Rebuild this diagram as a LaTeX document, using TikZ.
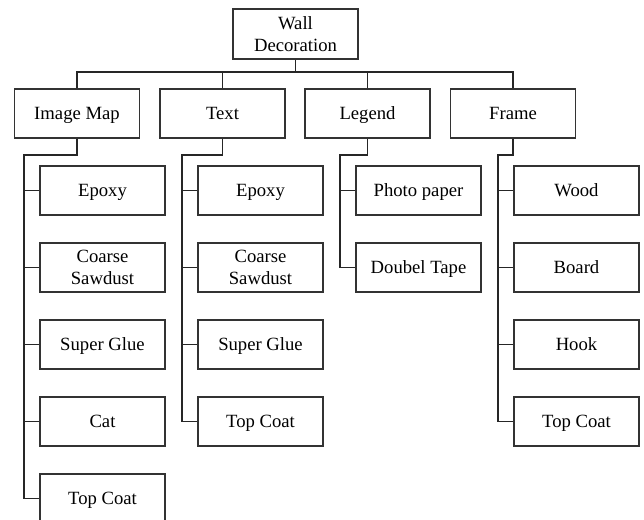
\documentclass[tikz,border=0pt]{standalone}
\usepackage{fontspec}
\setmainfont{Liberation Serif}
\begin{document}
\begin{tikzpicture}[x=0.75pt,y=-0.75pt,
  boxbase/.style={draw=black!80,line width=0.9pt,fill=white,minimum width=125*0.75pt,minimum height=49*0.75pt,inner sep=1pt,align=center,font=\fontsize{14}{16}\selectfont},
  box/.style={boxbase,text height=9.2pt,text depth=0pt},
  boxtwo/.style={boxbase},
  link/.style={draw=black!85,line width=1pt}]
\clip (0,0) rectangle (644,520);
\fill[white] (0,0) rectangle (644,520);
% root
\node[boxtwo,minimum height=50*0.75pt] (wall) at (295.5,34) {Wall\\Decoration};
% level 1
\node[box] (im) at (77,113.5) {Image Map};
\node[box] (tx) at (222.5,113.5) {Text};
\node[box] (lg) at (367.5,113.5) {Legend};
\node[box] (fr) at (513,113.5) {Frame};
% level 2: Image Map
\node[box] (im1) at (102.5,190.5) {Epoxy};
\node[boxtwo] (im2) at (102.5,267.5) {Coarse\\Sawdust};
\node[box] (im3) at (102.5,344.5) {Super Glue};
\node[box] (im4) at (102.5,421.5) {Cat};
\node[box] (im5) at (102.5,498.5) {Top Coat};
% Text
\node[box] (tx1) at (260.5,190.5) {Epoxy};
\node[boxtwo] (tx2) at (260.5,267.5) {Coarse\\Sawdust};
\node[box] (tx3) at (260.5,344.5) {Super Glue};
\node[box] (tx4) at (260.5,421.5) {Top Coat};
% Legend
\node[box] (lg1) at (418.5,190.5) {Photo paper};
\node[box] (lg2) at (418.5,267.5) {Doubel Tape};
% Frame
\node[box] (fr1) at (576.5,190.5) {Wood};
\node[box] (fr2) at (576.5,267.5) {Board};
\node[box] (fr3) at (576.5,344.5) {Hook};
\node[box] (fr4) at (576.5,421.5) {Top Coat};
% bus
\coordinate (bus) at (0,72);
\draw[link] (wall.south) -- (wall.south |- bus);
\draw[link] (im.north) |- (fr.north |- bus) -- (fr.north);
\draw[link] (tx.north) -- (tx.north |- bus);
\draw[link] (lg.north) -- (lg.north |- bus);
% trunks
\coordinate (jim) at (24,155);
\coordinate (jtx) at (182,155);
\coordinate (jlg) at (340,155);
\coordinate (jfr) at (498,155);
\draw[link] (im.south) |- (jim) |- (im5.west);
\foreach \c in {im1,im2,im3,im4} \draw[link] (jim |- \c.west) -- (\c.west);
\draw[link] (tx.south) |- (jtx) |- (tx4.west);
\foreach \c in {tx1,tx2,tx3} \draw[link] (jtx |- \c.west) -- (\c.west);
\draw[link] (lg.south) |- (jlg) |- (lg2.west);
\draw[link] (jlg |- lg1.west) -- (lg1.west);
\draw[link] (fr.south) |- (jfr) |- (fr4.west);
\foreach \c in {fr1,fr2,fr3} \draw[link] (jfr |- \c.west) -- (\c.west);
\end{tikzpicture}
\end{document}
